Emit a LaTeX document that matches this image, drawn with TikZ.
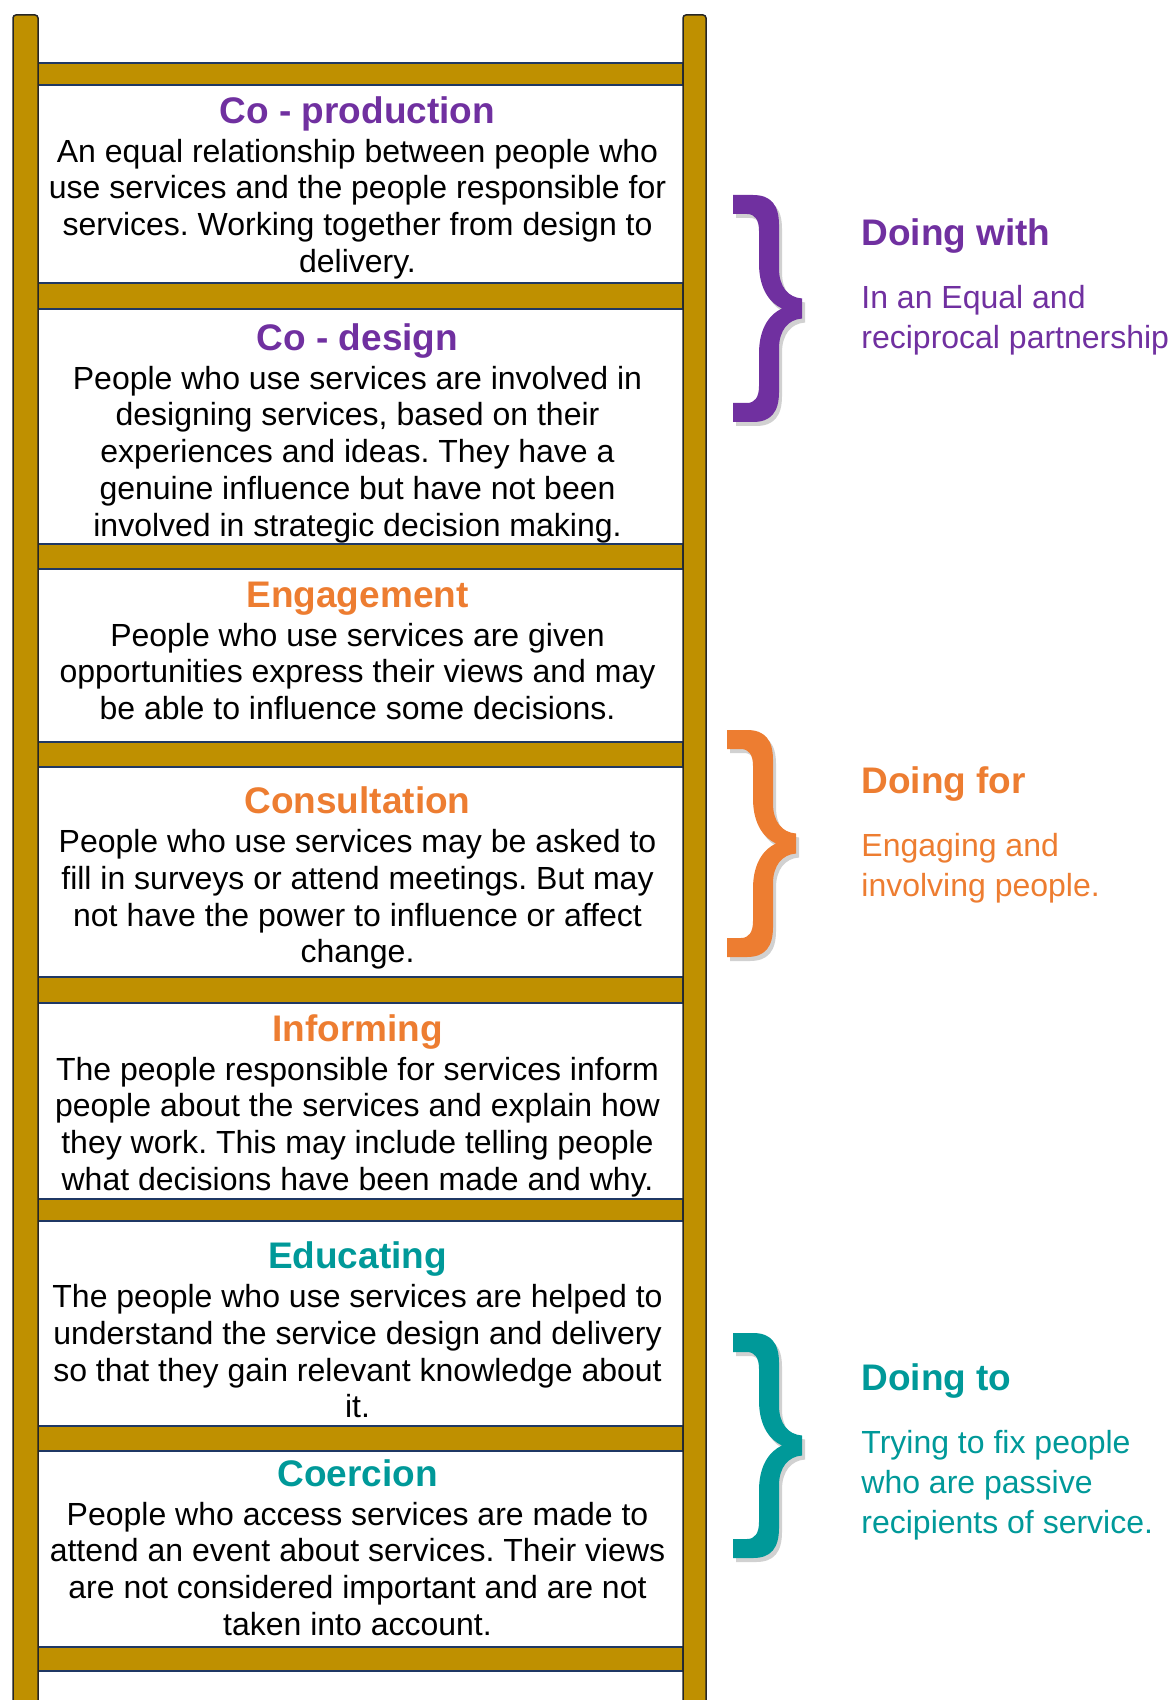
\documentclass[tikz,border=0pt]{standalone}
\usepackage{fontspec}
\setmainfont{Liberation Sans}
\usetikzlibrary{positioning}
\usepackage{xcolor}
\frenchspacing

\definecolor{ladgold}{HTML}{BF9000}
\definecolor{ladnavy}{HTML}{1F3864}
\definecolor{cpurple}{HTML}{7030A0}
\definecolor{corange}{HTML}{ED7D31}
\definecolor{cteal}{HTML}{009999}

% title line of a rung box
\newcommand{\rungtitle}[2]{{\fontsize{18.5}{20}\selectfont\bfseries\color{#1}#2}}

% thick curly brace: options, left, top, bottom
\newcommand{\bracefill}[4]{%
  \pgfmathsetmacro{\bracemid}{(#3+#4)/2}%
  \fill[#1] (#2,#3) -- ({#2+20},#3)
    .. controls ({#2+38},#3) and ({#2+46},{#3+10}) .. ({#2+46},{#3+30})
    -- ({#2+46},{\bracemid-40})
    .. controls ({#2+46},{\bracemid-22}) and ({#2+55},{\bracemid-11}) .. ({#2+69},{\bracemid-10})
    -- ({#2+69},{\bracemid+10})
    .. controls ({#2+55},{\bracemid+11}) and ({#2+46},{\bracemid+22}) .. ({#2+46},{\bracemid+40})
    -- ({#2+46},{#4-30})
    .. controls ({#2+46},{#4-10}) and ({#2+38},#4) .. ({#2+20},#4)
    -- (#2,#4) -- (#2,{#4-19}) -- ({#2+14},{#4-19})
    .. controls ({#2+22},{#4-19}) and ({#2+26},{#4-25}) .. ({#2+26},{#4-36})
    -- ({#2+26},{\bracemid+45})
    .. controls ({#2+26},{\bracemid+18}) and ({#2+38},{\bracemid+5}) .. ({#2+49},\bracemid)
    .. controls ({#2+38},{\bracemid-5}) and ({#2+26},{\bracemid-18}) .. ({#2+26},{\bracemid-45})
    -- ({#2+26},{#3+36})
    .. controls ({#2+26},{#3+25}) and ({#2+22},{#3+19}) .. ({#2+14},{#3+19})
    -- (#2,{#3+19}) -- cycle;}
\newcommand{\ladderbrace}[4]{%
  \bracefill{black, opacity=0.18, shift={(3,4)}}{#2}{#3}{#4}
  \bracefill{#1}{#2}{#3}{#4}}

\begin{document}
\begin{tikzpicture}[x=0.5pt, y=-0.5pt,
    rung/.style={fill=ladgold, draw=ladnavy, line width=0.85pt},
    rail/.style={fill=ladgold, draw=black!85, line width=0.75pt, rounded corners=1.5pt},
    boxtext/.style={align=center, inner sep=0pt, anchor=north, font=\fontsize{16}{18.4}\selectfont},
    sidehead/.style={inner sep=0pt, anchor=base west, font=\fontsize{18.5}{22}\selectfont\bfseries},
    sidetext/.style={align=left, inner sep=0pt, font=\fontsize{16}{20.1}\selectfont}]
    \useasboundingbox (0,0) rectangle (1172,1700);

    % Rungs
    \draw[rung] (38,63) rectangle (683,85);
    \draw[rung] (38,283) rectangle (683,309);
    \draw[rung] (38,544) rectangle (683,569);
    \draw[rung] (38,742) rectangle (683,767);
    \draw[rung] (38,977) rectangle (683,1003);
    \draw[rung] (38,1199) rectangle (683,1221);
    \draw[rung] (38,1426) rectangle (683,1451);
    \draw[rung] (38,1647) rectangle (683,1671);

    % Rails
    \draw[rail] (13,15) rectangle (38,1720);
    \draw[rail] (683,15) rectangle (706,1720);

    % Steps of the ladder
    \node (coprod) [boxtext] at (357.5,96) {\rungtitle{cpurple}{Co - production}\\[1pt]
        An equal relationship between people who\\ use services and the people responsible for\\
        services. Working together from design to\\ delivery.};
    \node (codesign) [boxtext] at (357.5,323) {\rungtitle{cpurple}{Co - design}\\[1pt]
        People who use services are involved in\\ designing services, based on their\\
        experiences and ideas. They have a\\ genuine influence but have not been\\
        involved in strategic decision making.};
    \node (engage) [boxtext] at (357.5,581.5) {\rungtitle{corange}{Engagement}\\[1pt]
        People who use services are given\\ opportunities express their views and may\\
        be able to influence some decisions.};
    \node (consult) [boxtext] at (357.5,786.5) {\rungtitle{corange}{Consultation}\\[1pt]
        People who use services may be asked to\\ fill in surveys or attend meetings. But may\\
        not have the power to influence or affect\\ change.};
    \node (inform) [boxtext] at (357.5,1014) {\rungtitle{corange}{Informing}\\[1pt]
        The people responsible for services inform\\ people about the services and explain how\\
        they work. This may include telling people\\ what decisions have been made and why.};
    \node (educate) [boxtext] at (357.5,1241.5) {\rungtitle{cteal}{Educating}\\[1pt]
        The people who use services are helped to\\ understand the service design and delivery\\
        so that they gain relevant knowledge about\\ it.};
    \node (coerce) [boxtext] at (357.5,1459) {\rungtitle{cteal}{Coercion}\\[1pt]
        People who access services are made to\\ attend an event about services. Their views\\
        are not considered important and are not\\ taken into account.};

    % Braces
    \ladderbrace{cpurple}{733}{195}{422}
    \ladderbrace{corange}{727}{730}{957}
    \ladderbrace{cteal}{733}{1333}{1558}

    % Side labels
    \node (dwith) [sidehead, text=cpurple] at (861,245.5) {Doing with};
    \node (dwithtext) [sidetext, text=cpurple, below=15.5pt of dwith.south west, anchor=north west]
        {In an Equal and\\ reciprocal partnership};
    \node (dfor) [sidehead, text=corange] at (861,793.5) {Doing for};
    \node (dfortext) [sidetext, text=corange, below=15.5pt of dfor.south west, anchor=north west]
        {Engaging and\\ involving people.};
    \node (dto) [sidehead, text=cteal] at (861,1390.5) {Doing to};
    \node (dtotext) [sidetext, text=cteal, below=15.5pt of dto.south west, anchor=north west]
        {Trying to fix people\\ who are passive\\ recipients of service.};
\end{tikzpicture}
\end{document}
